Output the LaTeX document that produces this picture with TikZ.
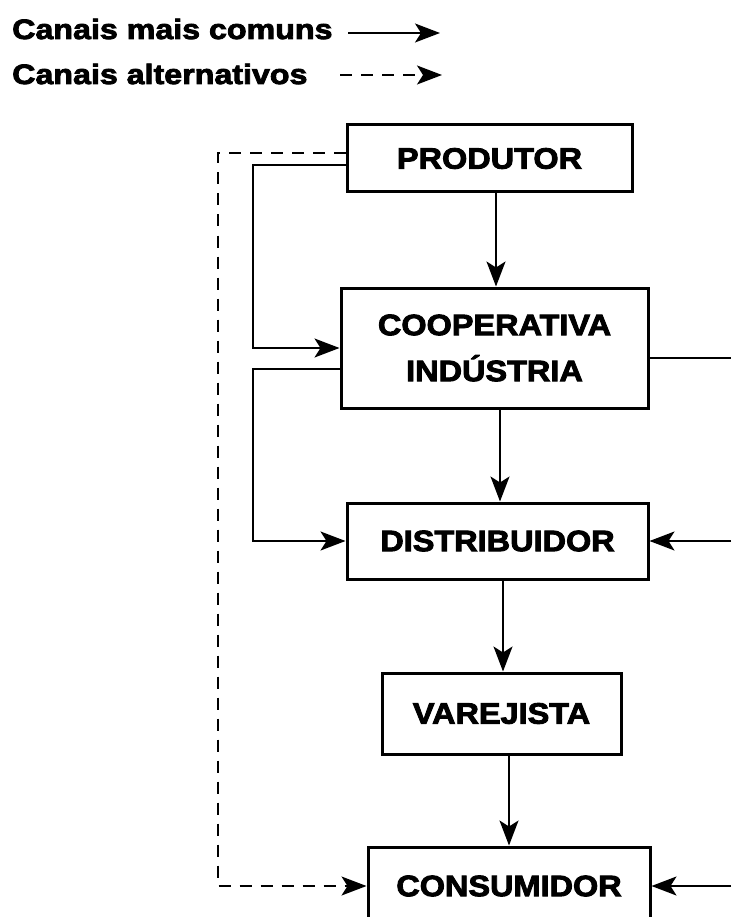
\documentclass[tikz,border=0pt]{standalone}
\usepackage{fontspec}
\setmainfont{Liberation Sans}
\newfontfamily\boxfont[FakeStretch=1.1,FakeBold=3]{Liberation Sans Bold}
\newfontfamily\legfont[FakeStretch=1.15,FakeBold=3]{Liberation Sans Bold}
\usetikzlibrary{arrows.meta}
\begin{document}
\begin{tikzpicture}[x=1pt,y=-1pt,
  box/.style={draw,line width=3pt,inner sep=0pt,align=center,
    font=\boxfont\fontsize{29.5}{46}\selectfont},
  conn/.style={line width=1.5pt},
  arr/.style={conn,-{Stealth[length=25pt,width=19pt,inset=6pt]}},
  dsh/.style={dash pattern=on 12pt off 9pt},
  leg/.style={font=\legfont\fontsize{28}{30}\selectfont,inner sep=0pt,anchor=base west}]
\useasboundingbox (0,0) rectangle (731,917);
\clip (0,0) rectangle (731,917);
% legend
\node[leg] (l1) at (12,39) {Canais mais comuns};
\node[leg] (l2) at (12,84) {Canais alternativos};
\coordinate (l1a) at (348,33);
\coordinate (l1b) at (440,33);
\coordinate (l2a) at (340,75);
\coordinate (l2b) at (442,75);
\draw[arr] (l1a) -- (l1b);
\draw[arr,dsh] (l2a) -- (l2b);
% boxes
\node[box,minimum width=285pt,minimum height=67pt] (prod) at (489.5,158.5) {PRODUTOR};
\node[box,minimum width=307pt,minimum height=120pt] (coop) at (494.5,348) {COOPERATIVA\\IND\'USTRIA};
\node[box,minimum width=301pt,minimum height=76pt] (dist) at (497.5,541) {DISTRIBUIDOR};
\node[box,minimum width=239pt,minimum height=81pt] (var) at (501.5,713.5) {VAREJISTA};
\node[box,minimum width=282pt,minimum height=78pt] (cons) at (509,886) {CONSUMIDOR};
% main vertical flow
\draw[arr] ([xshift=6.5pt]prod.south) -- ([xshift=6.5pt]prod.south |- coop.north);
\draw[arr] ([xshift=5.5pt]coop.south) -- ([xshift=5.5pt]coop.south |- dist.north);
\draw[arr] ([xshift=5.5pt]dist.south) -- ([xshift=5.5pt]dist.south |- var.north);
\draw[arr] ([xshift=7.5pt]var.south) -- ([xshift=7.5pt]var.south |- cons.north);
% left solid channels
\coordinate (c1) at (253,165);
\coordinate (c2) at (253,369);
\draw[arr] (prod.west |- c1) -- (c1) |- (coop.west);
\draw[arr] (coop.west |- c2) -- (c2) |- (dist.west);
% dashed alternative
\coordinate (d1) at (218,153);
\draw[arr,dsh] (prod.west |- d1) -- (d1) |- (cons.west);
% right side
\coordinate (r1) at (731,358);
\coordinate (r2) at (731,541);
\coordinate (r3) at (731,886);
\draw[conn] (coop.east |- r1) -- (r1);
\draw[arr] (r2) -- (dist.east);
\draw[arr] (r3) -- (cons.east);
\end{tikzpicture}
\end{document}
